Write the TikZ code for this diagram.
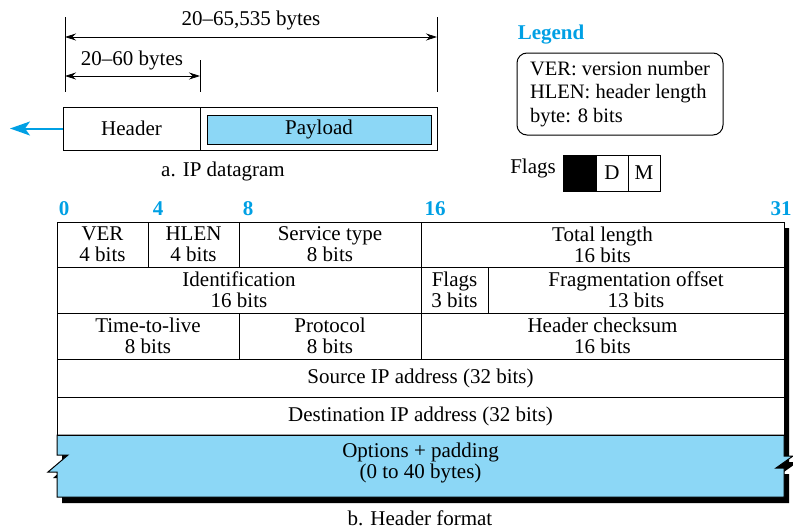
\documentclass[tikz,border=0pt]{standalone}
\usepackage{fontspec}
\setmainfont{Liberation Serif}
\usepackage{tikz}
\usetikzlibrary{arrows.meta, calc, positioning}
\usepackage{xcolor}
\definecolor{ipblue}{RGB}{0,160,228}
\definecolor{ipfill}{RGB}{140,215,246}

\begin{document}
\begin{tikzpicture}[x=1pt, y=-1pt, every node/.style={font=\fontsize{21}{21}\selectfont, inner sep=0pt},
  cell/.style={draw, line width=1pt, align=center},
  bitnum/.style={ipblue, font=\fontsize{21}{21}\selectfont\bfseries},
  dimline/.style={{Stealth[length=11pt,width=7pt]}-{Stealth[length=11pt,width=7pt]}, line width=0.8pt}]
  \useasboundingbox (0,0) rectangle (793,530);

  % a. IP datagram
  \coordinate (lt) at (65,17);  \coordinate (lb) at (65,92);
  \coordinate (rt) at (437,17); \coordinate (rb) at (437,92);
  \coordinate (mt) at (200,60); \coordinate (mb) at (200,92);
  \draw[line width=0.8pt] (lt) -- (lb) (rt) -- (rb) (mt) -- (mb);
  \coordinate (longl) at (65,37);  \coordinate (longr) at (437,37);
  \coordinate (shortl) at (65,76); \coordinate (shortr) at (200,76);
  \draw[dimline] (longl) -- (longr);
  \draw[dimline] (shortl) -- (shortr);
  \node (longlbl) at (251,20) {20–65,535 bytes};
  \node (shortlbl) at (132,60) {20–60 bytes};

  \node[cell, minimum width=137, minimum height=43] (header) at (131.5,128.5) {Header};
  \node[cell, minimum width=237, minimum height=43] (pframe) at (318.5,128.5) {};
  \node[cell, fill=ipfill, minimum width=224, minimum height=29] (payload) at (319,129.5) {Payload};
  \coordinate (outarrow) at (10,128.5);
  \draw[-{Stealth[length=20pt,width=14pt,inset=5pt]}, ipblue, line width=2pt] (header.west) -- (outarrow);
  \node (capa) at (223,171) {a. IP datagram};

  % legend and flags
  \node[ipblue, font=\fontsize{21}{21}\selectfont\bfseries] (legendttl) at (551,35) {Legend};
  \node[draw, line width=1pt, rounded corners=10pt, align=left, inner xsep=8pt, inner ysep=6pt,
        minimum width=206, minimum height=82, font=\fontsize{20.5}{23.5}\selectfont] (legend) at (620,94)
    {VER: version number\\HLEN: header length\\byte: 8 bits};
  \node (flagsttl) at (533,168) {Flags};
  \node[cell, fill=black, minimum width=33, minimum height=36] (fblack) at (579.5,173) {};
  \node[cell, minimum width=32, minimum height=36] (fd) at (612,173) {D};
  \node[cell, minimum width=32, minimum height=36] (fm) at (644,173) {M};

  % b. header format
  \node[bitnum] (b0) at (64,209) {0};
  \node[bitnum] (b4) at (158,209) {4};
  \node[bitnum] (b8) at (248,209) {8};
  \node[bitnum] (b16) at (435,209) {16};
  \node[bitnum] (b31) at (781,209) {31};

  % shadow
  \fill[black, shift={(5,6)}] (57,222) -- (784,222) -- (784,456) -- (793,456) -- (776,468) -- (784,468)
    -- (784,497) -- (57,497) -- (57,472) -- (48,472) -- (68,455) -- (57,455) -- cycle;
  \fill[white] (57,222) rectangle (784,435);
  \draw[fill=ipfill, line width=1pt] (57,435) -- (784,435) -- (784,456) -- (793,456) -- (776,468) -- (784,468)
    -- (784,497) -- (57,497) -- (57,472) -- (48,472) -- (68,455) -- (57,455) -- cycle;

  \node[cell, minimum width=91, minimum height=45] (ver) at (102.5,244.5) {VER\\4 bits};
  \node[cell, minimum width=91, minimum height=45] (hlen) at (193.5,244.5) {HLEN\\4 bits};
  \node[cell, minimum width=182, minimum height=45] (tos) at (330,244.5) {Service type\\8 bits};
  \node[cell, minimum width=363, minimum height=45] (totlen) at (602.5,244.5) {Total length\\16 bits};
  \node[cell, minimum width=364, minimum height=46] (ident) at (239,290) {Identification\\16 bits};
  \node[cell, minimum width=67, minimum height=46] (flags) at (454.5,290) {Flags\\3 bits};
  \node[cell, minimum width=296, minimum height=46] (fragoff) at (636,290) {Fragmentation offset\\13 bits};
  \node[cell, minimum width=182, minimum height=46] (ttl) at (148,336) {Time-to-live\\8 bits};
  \node[cell, minimum width=182, minimum height=46] (proto) at (330,336) {Protocol\\8 bits};
  \node[cell, minimum width=363, minimum height=46] (chksum) at (602.5,336) {Header checksum\\16 bits};
  \node[cell, minimum width=727, minimum height=38] (srcip) at (420.5,378) {Source IP address (32 bits)};
  \node[cell, minimum width=727, minimum height=38] (dstip) at (420.5,416) {Destination IP address (32 bits)};
  \node[align=center] (options) at (420.5,463) {Options + padding\\(0 to 40 bytes)};
  \node (capb) at (420,518) {b. Header format};
\end{tikzpicture}
\end{document}
